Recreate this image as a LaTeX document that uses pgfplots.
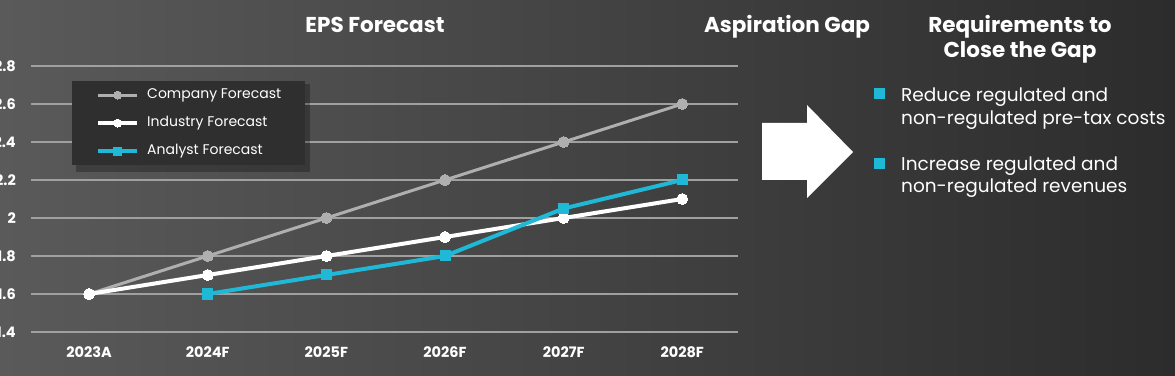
\documentclass[border=0pt]{standalone}
\usepackage{pgfplots}
\pgfplotsset{compat=1.18}
\usepackage{fontspec}
\setmainfont{Poppins}
\definecolor{bgL}{RGB}{90,90,90}
\definecolor{bgR}{RGB}{44,44,44}
\definecolor{cyanA}{RGB}{31,184,214}
\definecolor{grayC}{RGB}{175,175,175}
\definecolor{gridC}{RGB}{160,160,160}
\definecolor{legF}{RGB}{47,47,47}
\begin{document}
\begin{tikzpicture}[x=1pt,y=1pt]
\useasboundingbox (0,0) rectangle (1175,375);
\shade[left color=bgL,right color=bgR] (0,0) rectangle (1175,375);
\begin{axis}[at={(31pt,43pt)}, anchor=south west, scale only axis,
  width=707pt, height=266pt,
  xmin=-0.49, xmax=5.47, ymin=1.4, ymax=2.8,
  xtick={0,1,2,3,4,5},
  xticklabels={2023A,2024F,2025F,2026F,2027F,2028F},
  ytick={1.4,1.6,1.8,2.0,2.2,2.4,2.6,2.8},
  yticklabels={1.4,1.6,1.8,2,2.2,2.4,2.6,2.8},
  axis line style={draw=none}, major tick length=0pt,
  ymajorgrids, grid style={gridC, line width=1.5pt},
  ticklabel style={font=\bfseries\fontsize{14.5}{16}\selectfont, text=white},
  yticklabel style={anchor=east, inner sep=0pt, xshift=-15pt},
  xticklabel style={anchor=base, inner sep=0pt, yshift=-25pt},
  legend style={at={(0.058,0.944)}, anchor=north west, fill=legF, draw=none,
    text=white, font=\fontsize{14}{16}\selectfont,
    inner xsep=24pt, inner ysep=7.5pt, row sep=15pt,
    nodes={inner sep=0pt, text height=10pt, text depth=3pt},
    /tikz/every odd column/.append style={column sep=8pt}},
  legend cell align=left,
  legend image code/.code={%
    \draw[#1, mark=none] (0pt,0pt) -- (39pt,0pt);
    \draw[#1, only marks, mark size=4pt] plot coordinates {(19.5pt,0pt)};},
]
% legend shadow
\fill[black, opacity=0.28] (rel axis cs:0.063,0.600) rectangle (rel axis cs:0.395,0.932);
\addplot[grayC, line width=3pt, mark=*, mark size=5.5pt, mark options={fill=grayC, draw=grayC, line width=0pt}]
  coordinates {(0,1.6)(1,1.8)(2,2.0)(3,2.2)(4,2.4)(5,2.6)};
\addlegendentry{Company Forecast}
\addplot[white, line width=4pt, mark=*, mark size=5.5pt, mark options={fill=white, draw=white, line width=0pt}]
  coordinates {(0,1.6)(1,1.7)(2,1.8)(3,1.9)(4,2.0)(5,2.1)};
\addlegendentry{Industry Forecast}
\addplot[cyanA, line width=4pt, mark=square*, mark size=5pt, mark options={fill=cyanA, draw=cyanA, line width=0pt}]
  coordinates {(1,1.6)(2,1.7)(3,1.8)(4,2.05)(5,2.2)};
\addlegendentry{Analyst Forecast}
\end{axis}
% titles
\begin{scope}[every node/.style={anchor=base, text=white, inner sep=0pt, font=\bfseries\fontsize{21.5}{24}\selectfont}]
\node at (375,342) {EPS Forecast};
\node at (787,342) {Aspiration Gap};
\node at (1020,342) {Requirements to};
\node at (1020,317) {Close the Gap};
\end{scope}
% arrow
\fill[white] (762,252) -- (807,252) -- (807,270) -- (853,223) -- (807,177) -- (807,195) -- (762,195) -- cycle;
% bullets
\fill[cyanA] (874,276) rectangle (885,287);
\fill[cyanA] (874,206) rectangle (885,217);
\begin{scope}[every node/.style={anchor=base west, text=white, inner sep=0pt, font=\fontsize{18.5}{22}\selectfont}]
\node at (901,273) {Reduce regulated and};
\node at (901,250) {non-regulated pre-tax costs};
\node at (901,204) {Increase regulated and};
\node at (901,182) {non-regulated revenues};
\end{scope}
\end{tikzpicture}
\end{document}
